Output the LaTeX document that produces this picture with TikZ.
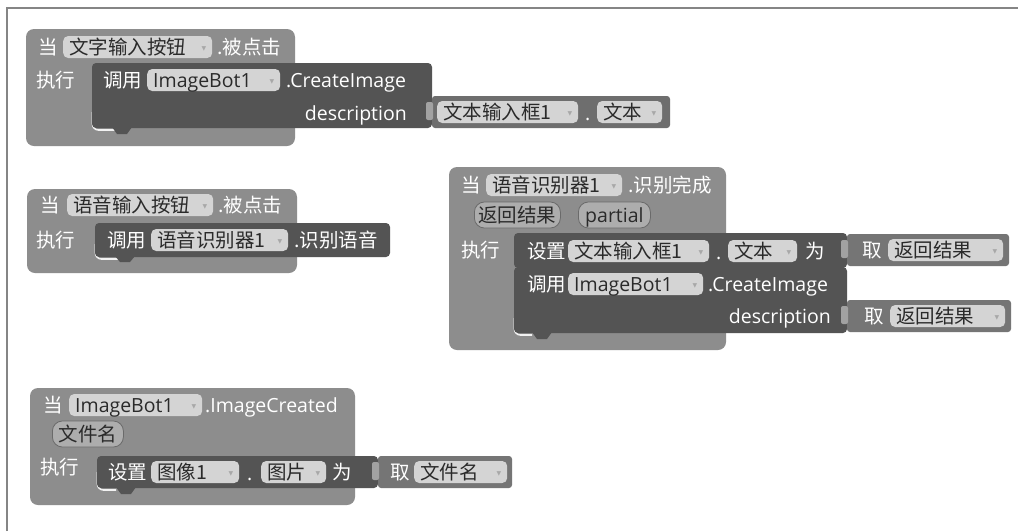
\documentclass[tikz,border=0pt]{standalone}
\usepackage{fontspec}
\setmainfont{Noto Sans CJK SC}
\newfontfamily\lat{Open Sans}
\newfontfamily\djv{DejaVu Sans}
\definecolor{evtc}{HTML}{8D8D8D}
\definecolor{stmc}{HTML}{545454}
\definecolor{valc}{HTML}{6E6E6E}
\definecolor{getc}{HTML}{757575}
\definecolor{fldc}{HTML}{D4D4D4}
\definecolor{pilc}{HTML}{ADADAD}
\definecolor{tabc}{HTML}{A2A2A2}
\definecolor{arrc}{HTML}{A8A8A8}
\definecolor{txtd}{HTML}{2A2A2A}
\definecolor{framec}{HTML}{858585}
\newcommand\arrowglyph{\raisebox{4pt}{\djv\fontsize{6}{6}\selectfont\color{arrc}▼}}
\newcommand\fl[2]{\makebox[\dimexpr#1pt-12pt\relax][l]{#2\hfill\arrowglyph}}
\tikzset{
  evt/.style={fill=evtc, rounded corners=8pt},
  stm/.style={fill=stmc, rounded corners=4pt},
  val/.style={fill=valc, rounded corners=3pt},
  getb/.style={fill=getc, rounded corners=3pt},
  tabs/.style={fill=tabc, rounded corners=2pt},
  lbl/.style={text=white, anchor=west, inner sep=0pt, text height=15pt, text depth=1pt, font=\fontsize{19.5}{22}\selectfont},
  lble/.style={lbl, anchor=east},
  fld/.style={fill=fldc, rounded corners=5pt, text=txtd, anchor=west, inner xsep=6pt, inner ysep=0pt, text height=15pt, text depth=1pt, minimum height=22pt, font=\fontsize{19.5}{22}\selectfont},
  pill/.style={fill=pilc, draw=evtc!75!black, line width=0.8pt, rounded corners=10pt, text=txtd, anchor=west, inner xsep=0pt, inner ysep=0pt, text height=15pt, text depth=1pt, minimum height=26pt, font=\fontsize{19.5}{22}\selectfont},
  hl/.style={draw=white!90!gray, line width=1.6pt, rounded corners=6pt},
  frame/.style={draw=framec, line width=1.6pt}
}
\begin{document}
\begin{tikzpicture}[x=1pt,y=-1pt]
\useasboundingbox (0,0) rectangle (1018,531);
\fill[white] (0,0) rectangle (1018,531);
\draw[frame] (7,531) -- (7,8) -- (1018,8);

% ---------- Block 1 ----------
\fill[evt] (26,29) rectangle (295,146);
\draw[hl] (92.5,112) -- (92.5,130) -- (116,130);
\fill[stm] (92,63) rectangle (432,128);
\fill[stmc] (112,127) -- (117,134) -- (127,134) -- (132,127) -- cycle;
\fill[val] (432,96) rectangle (670,128);
\fill[tabs] (426,102) rectangle (433,120);
\node[lbl] (b1when) at (38,47) {当};
\node[fld] (b1btn) at (63,47) {\fl{149}{文字输入按钮}};
\node[lbl] (b1evt) at (217,47) {.被点击};
\node[lbl] (b1do) at (36,80) {执行};
\node[lbl] (b1call) at (103,80) {调用};
\node[fld] (b1bot) at (147,80) {\fl{133}{\lat ImageBot1}};
\node[lbl] (b1meth) at (286,80) {\lat .CreateImage};
\node[lble] (b1desc) at (407,113) {\lat description};
\node[fld] (b1tb) at (437,112) {\fl{141}{文本输入框1}};
\node[lbl] (b1dot) at (585,113) {\lat .};
\node[fld] (b1txt) at (597,112) {\fl{65}{文本}};

% ---------- Block 2 ----------
\fill[evt] (27,189) rectangle (297,273);
\draw[hl] (95.5,244) -- (95.5,259) -- (118,259);
\fill[stm] (95,223) rectangle (390,257);
\fill[stmc] (115,256) -- (120,262) -- (130,262) -- (135,256) -- cycle;
\node[lbl] (b2when) at (40,205) {当};
\node[fld] (b2btn) at (67,205) {\fl{146}{语音输入按钮}};
\node[lbl] (b2evt) at (218,205) {.被点击};
\node[lbl] (b2do) at (36,240) {执行};
\node[lbl] (b2call) at (107,240) {调用};
\node[fld] (b2rec) at (151,240) {\fl{137}{语音识别器1}};
\node[lbl] (b2meth) at (294,240) {.识别语音};

% ---------- Block 3 ----------
\fill[evt] (449,167) rectangle (726,350);
\draw[hl] (514.5,318) -- (514.5,335) -- (532,335);
\fill[stm] (514,233) rectangle (847,268);
\fill[stm] (514,267) rectangle (847,333);
\fill[stmc] (532,332) -- (537,339) -- (547,339) -- (552,332) -- cycle;
\fill[getb] (847,234) rectangle (1009,266);
\fill[tabs] (841,240) rectangle (848,258);
\fill[getb] (847,300) rectangle (1011,332);
\fill[tabs] (841,306) rectangle (848,324);
\node[lbl] (b3when) at (461,185) {当};
\node[fld] (b3rec) at (486,185) {\fl{136}{语音识别器1}};
\node[lbl] (b3evt) at (628,185) {.识别完成};
\node[pill, minimum width=86pt] (b3p1) at (474,215) {返回结果};
\node[pill, minimum width=72pt] (b3p2) at (578,215) {\lat partial};
\node[lbl] (b3do) at (461,250) {执行};
\node[lbl] (b3set) at (527,251) {设置};
\node[fld] (b3tb) at (568,251) {\fl{141}{文本输入框1}};
\node[lbl] (b3dot) at (716,252) {\lat .};
\node[fld] (b3txt) at (728,251) {\fl{69}{文本}};
\node[lbl] (b3as) at (805,251) {为};
\node[lbl] (b3get1) at (862,250) {取};
\node[fld] (b3res1) at (888,250) {\fl{115}{返回结果}};
\node[lbl] (b3call) at (527,284) {调用};
\node[fld] (b3bot) at (568,284) {\fl{135}{\lat ImageBot1}};
\node[lbl] (b3meth) at (708,284) {\lat .CreateImage};
\node[lble] (b3desc) at (831,316) {\lat description};
\node[lbl] (b3get2) at (864,316) {取};
\node[fld] (b3res2) at (890,316) {\fl{115}{返回结果}};

% ---------- Block 4 ----------
\fill[evt] (30,388) rectangle (355,505);
\draw[hl] (97.5,472) -- (97.5,490) -- (116,490);
\fill[stm] (97,456) rectangle (378,488);
\fill[stmc] (116,487) -- (121,494) -- (131,494) -- (136,487) -- cycle;
\fill[getb] (378,456) rectangle (512,488);
\fill[tabs] (372,462) rectangle (379,480);
\node[lbl] (b4when) at (43,405) {当};
\node[fld] (b4bot) at (69,405) {\fl{133}{\lat ImageBot1}};
\node[lbl] (b4evt) at (205,405) {\lat .ImageCreated};
\node[pill, minimum width=71pt] (b4p1) at (52,434) {文件名};
\node[lbl] (b4do) at (40,467) {执行};
\node[lbl] (b4set) at (108,472) {设置};
\node[fld] (b4img) at (151,472) {\fl{88}{图像1}};
\node[lbl] (b4dot) at (247,473) {\lat .};
\node[fld] (b4pic) at (261,472) {\fl{65}{图片}};
\node[lbl] (b4as) at (332,472) {为};
\node[lbl] (b4get) at (390,472) {取};
\node[fld] (b4fn) at (414,472) {\fl{93}{文件名}};
\end{tikzpicture}
\end{document}
